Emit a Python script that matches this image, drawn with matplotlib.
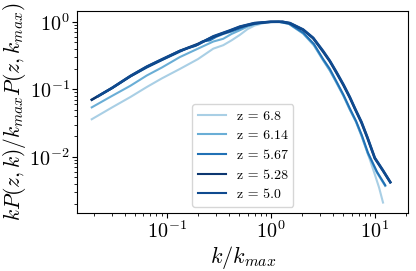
import matplotlib
matplotlib.use("Agg")
import matplotlib.pyplot as plt

plt.rcParams['font.family'] = 'serif'
plt.rcParams['font.serif'] = ['cmr10', 'DejaVu Serif']
plt.rcParams['mathtext.fontset'] = 'cm'
plt.rcParams['axes.formatter.use_mathtext'] = True

labels = ["z = 6.8", "z = 6.14", "z = 5.67", "z = 5.28", "z = 5.0"]
colors = ["#a9cfe5", "#6aaed6", "#2171b5", "#0c3670", "#0f4a8f"]

k_68 = [0.0191, 0.03, 0.045, 0.0645, 0.09, 0.134, 0.2, 0.281, 0.35, 0.42, 0.506, 0.6, 0.7, 0.91, 1.2, 1.5,
        2.05, 2.6, 3.19, 3.7, 4.29, 5.0, 5.76, 6.6, 7.5, 8.6, 10.0, 11.0, 12.0]
p_68 = [0.036, 0.054, 0.077, 0.108, 0.145, 0.2, 0.28, 0.40, 0.45, 0.53, 0.64, 0.78, 0.88, 0.98, 1.0, 0.93,
        0.67, 0.45, 0.27, 0.19, 0.125, 0.08, 0.05, 0.033, 0.02, 0.011, 0.0055, 0.0035, 0.0021]

k_614 = [0.0191, 0.03, 0.045, 0.0645, 0.09, 0.134, 0.2, 0.281, 0.35, 0.42, 0.506, 0.6, 0.7, 0.91, 1.2, 1.5,
         2.05, 2.6, 3.19, 3.7, 4.29, 5.0, 5.76, 6.6, 7.5, 8.6, 10.5, 12.6]
p_614 = [0.054, 0.08, 0.113, 0.16, 0.21, 0.30, 0.40, 0.51, 0.56, 0.66, 0.75, 0.85, 0.92, 0.99, 1.0, 0.93,
         0.67, 0.45, 0.27, 0.19, 0.125, 0.08, 0.05, 0.033, 0.02, 0.011, 0.0058, 0.0037]

k_567 = [0.0191, 0.03, 0.045, 0.0645, 0.09, 0.134, 0.16, 0.19, 0.22, 0.26, 0.3, 0.35, 0.42, 0.506, 0.6, 0.7, 0.91, 1.2, 1.5,
         2.05, 2.6, 3.19, 3.7, 4.29, 5.0, 5.76, 6.6, 7.5, 8.6, 10.5, 12.6]
p_567 = [0.07, 0.104, 0.155, 0.21, 0.27, 0.36, 0.41, 0.44, 0.51, 0.53, 0.60, 0.66, 0.72, 0.80, 0.88, 0.93, 0.99, 1.0, 0.94,
         0.69, 0.47, 0.28, 0.2, 0.13, 0.083, 0.052, 0.034, 0.021, 0.0115, 0.006, 0.0038]

k_528 = [0.0191, 0.03, 0.045, 0.0645, 0.09, 0.134, 0.2, 0.281, 0.4, 0.506, 0.7, 1.0, 1.3, 1.53,
         2.05, 2.56, 3.19, 3.7, 4.29, 5.0, 5.76, 6.5, 7.45, 8.5, 10.0, 12.0, 14.1]
p_528 = [0.07, 0.105, 0.157, 0.215, 0.275, 0.37, 0.47, 0.60, 0.73, 0.84, 0.95, 1.0, 1.0, 0.95,
         0.76, 0.57, 0.36, 0.26, 0.175, 0.115, 0.075, 0.05, 0.032, 0.019, 0.0095, 0.0062, 0.0042]

k_50 = [0.022, 0.03, 0.045, 0.0645, 0.09, 0.134, 0.2, 0.281, 0.4, 0.506, 0.7, 1.0, 1.3, 1.53,
        2.05, 2.56, 3.19, 3.7, 4.29, 5.0, 5.76, 6.5, 7.45, 8.5, 10.0, 12.0, 14.1]
p_50 = [0.079, 0.105, 0.158, 0.217, 0.278, 0.37, 0.46, 0.61, 0.74, 0.85, 0.96, 1.0, 1.0, 0.96,
        0.77, 0.58, 0.37, 0.265, 0.18, 0.118, 0.077, 0.051, 0.033, 0.0195, 0.0097, 0.0063, 0.0042]

series = [(k_68, p_68), (k_614, p_614), (k_567, p_567), (k_528, p_528), (k_50, p_50)]
widths = [1.5, 1.5, 1.5, 1.8, 1.8]

fig = plt.figure(figsize=(4.16, 2.71), dpi=100)
ax = fig.add_axes([0.186, 0.214, 0.795, 0.745])
for (k, p), lab, c, w in zip(series, labels, colors, widths):
    ax.plot(k, p, color=c, lw=w, label=lab)

ax.set_xscale('log')
ax.set_yscale('log')
ax.set_xlim(0.0139, 20.9)
ax.set_ylim(0.00147, 1.44)
ax.tick_params(labelsize=14.5, pad=2)
ax.set_xlabel(r'$k/k_{max}$', fontsize=16, labelpad=1)
ax.set_ylabel(r'$kP(z,k)/k_{max}P(z,k_{max})$', fontsize=15.5, labelpad=1)
leg = ax.legend(loc='lower center', bbox_to_anchor=(0.5, 0.031), borderaxespad=0,
                fontsize=10, handlelength=2.0, labelspacing=0.5)
for h in leg.get_lines():
    h.set_linewidth(1.5)

fig.savefig('out.png', dpi=100)
